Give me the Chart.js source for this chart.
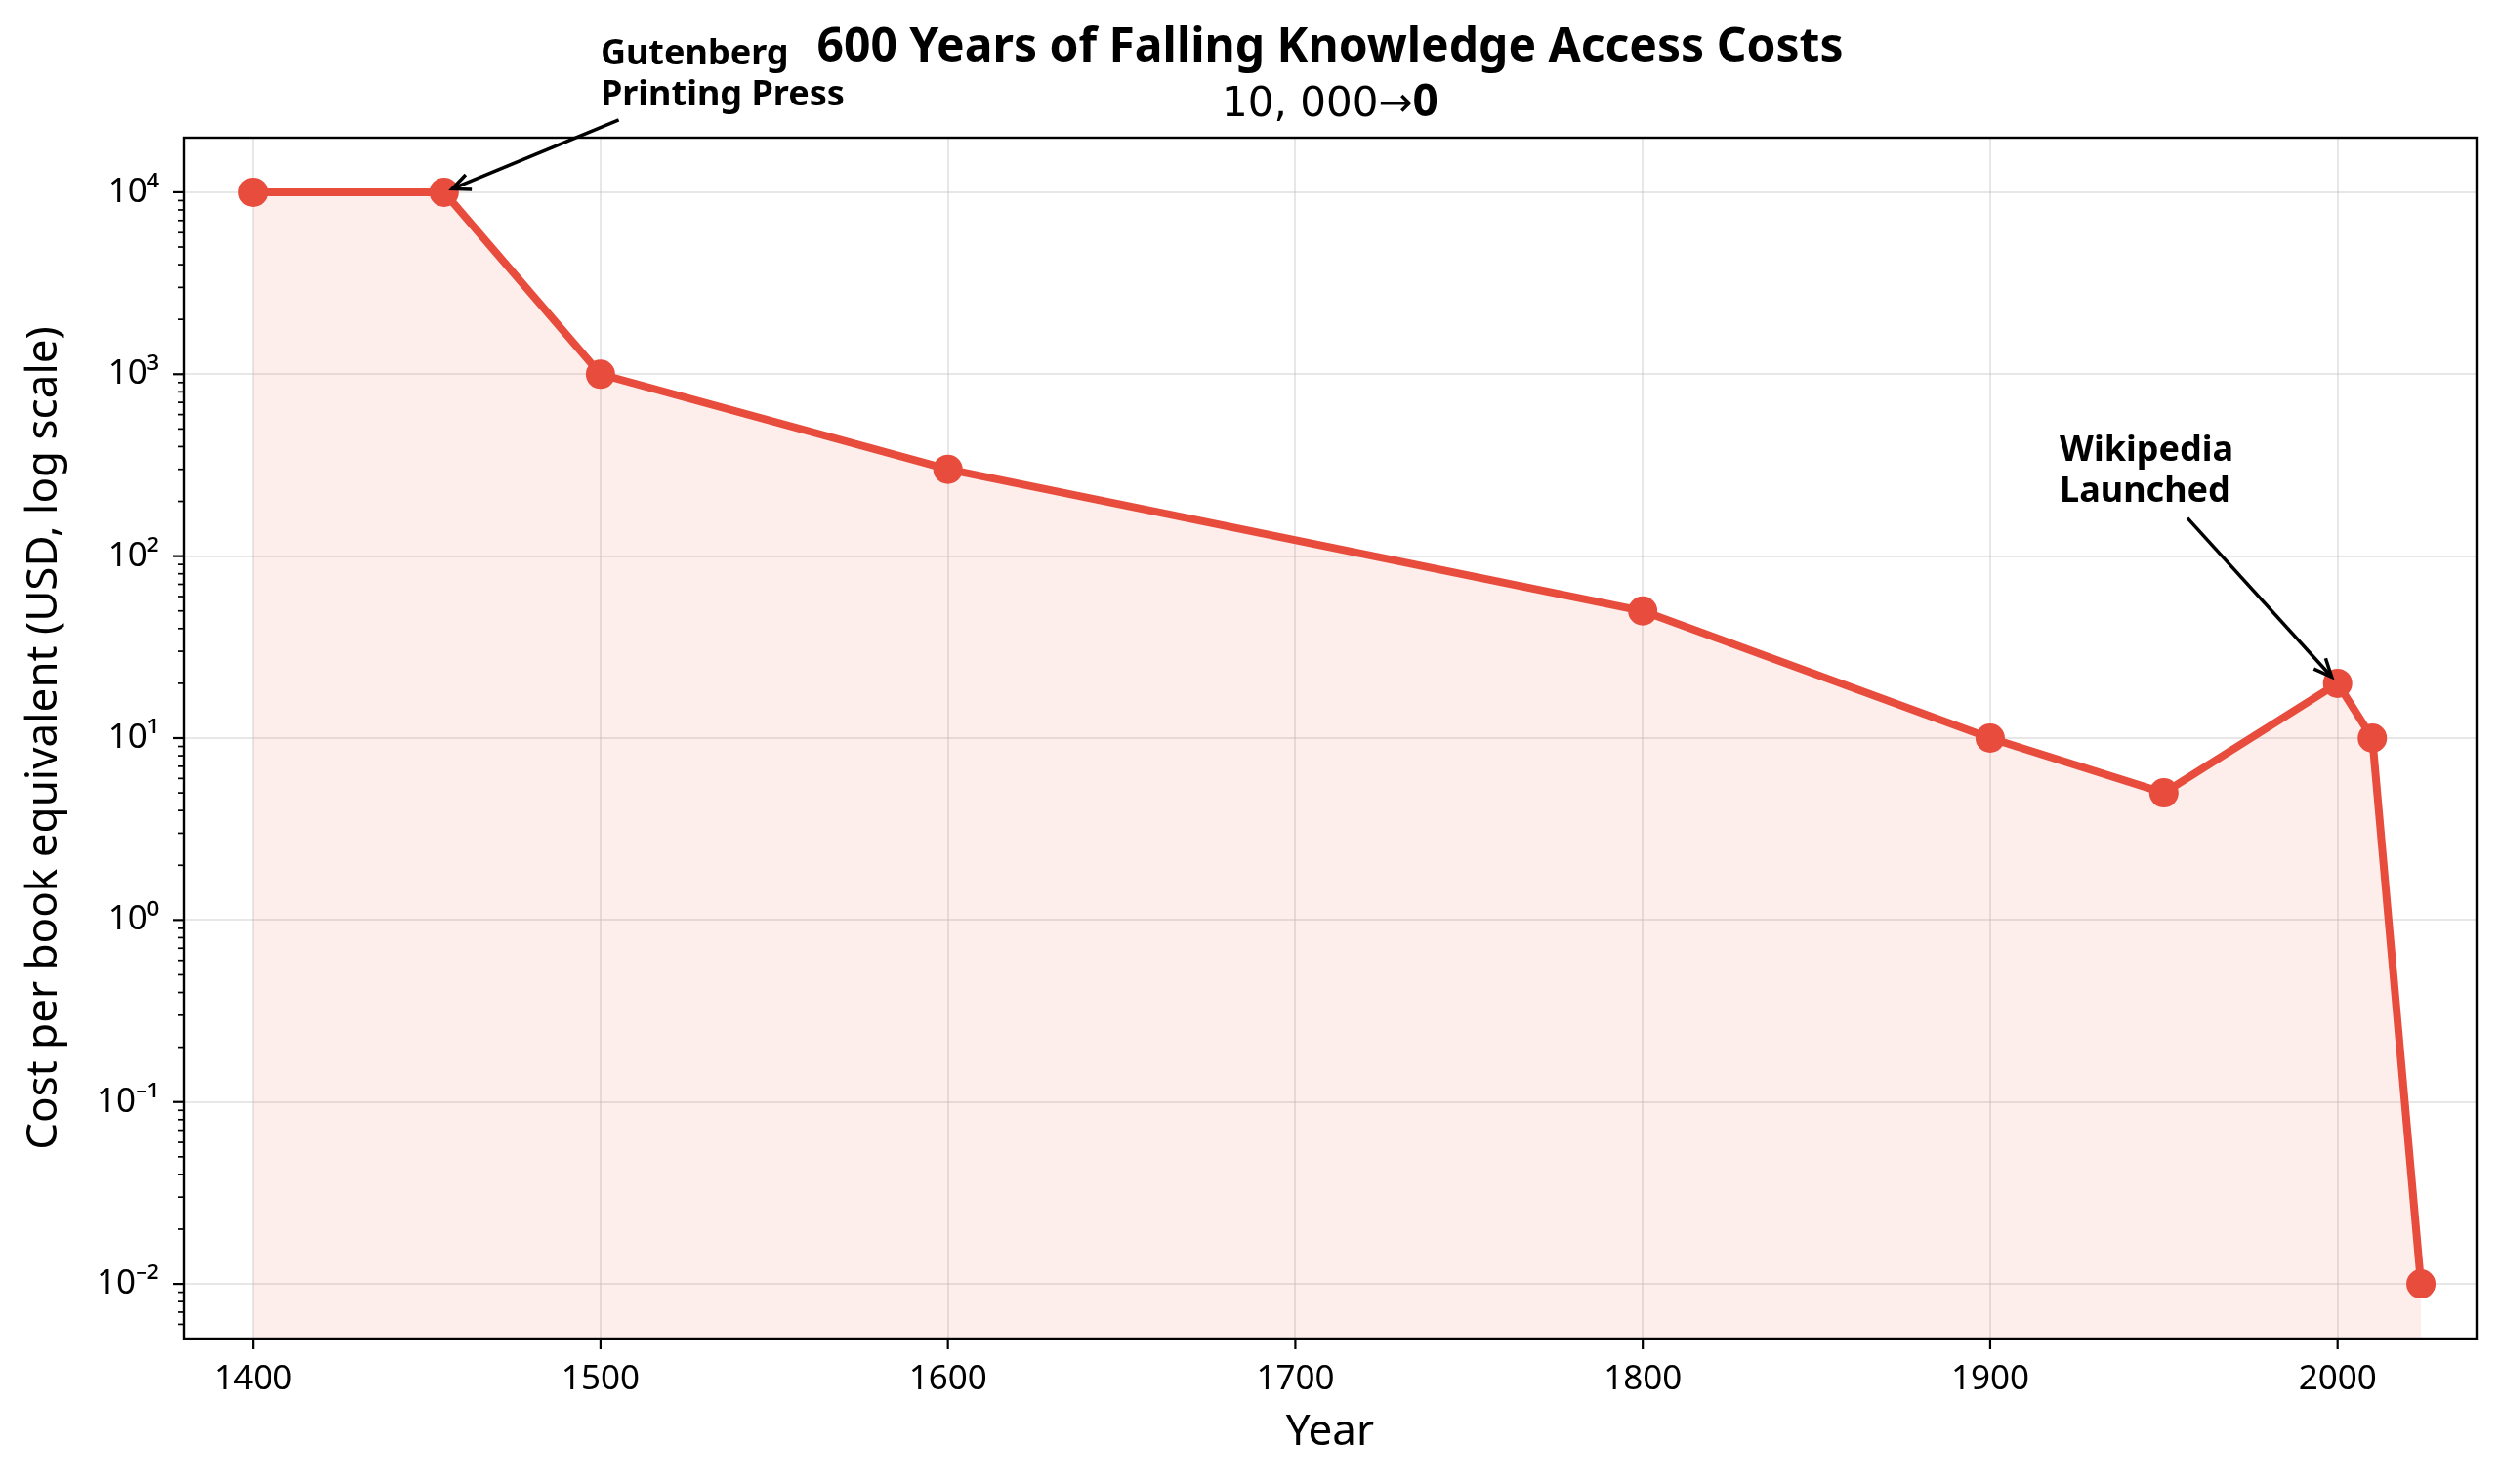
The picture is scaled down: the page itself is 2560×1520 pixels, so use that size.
<!DOCTYPE html>
<html>
<head>
<meta charset="utf-8">
<script src="https://cdn.jsdelivr.net/npm/chart.js@4.4.1/dist/chart.umd.min.js"></script>
<style>
  html, body { margin: 0; padding: 0; background: #ffffff; }
  #wrap { width: 2560px; height: 1520px; }
</style>
</head>
<body>
<div id="wrap"><canvas id="chart" width="2560" height="1520"></canvas></div>
<script>
// data
const years = [1400, 1455, 1500, 1600, 1800, 1900, 1950, 2000, 2010, 2024];
const costs = [10000, 10000, 1000, 300, 50, 10, 5, 20, 10, 0.01];

const xTicks = [1400, 1500, 1600, 1700, 1800, 1900, 2000];
const yTickExps = [-2, -1, 0, 1, 2, 3, 4];
const yTickLabels = ["10⁻²", "10⁻¹", "10⁰", "10¹", "10²", "10³", "10⁴"];

const annoLines = [["Gutenberg", "Printing Press"], ["Wikipedia", "Launched"]];
const annoTextAt = [[1500, 30000], [1920, 200]];
const annoTarget = [[1455, 10000], [2000, 20]];

const titleText = "600 Years of Falling Knowledge Access Costs";
const subtitleParts = ["10, 000→", "0"];

const RED = "#E74C3C";
const GRID = "rgba(176,176,176,0.3)";
const FONT = "'Noto Sans', sans-serif";
const MATH_FONT = "'DejaVu Sans', sans-serif";

function isDecade(v) {
    const e = Math.round(Math.log10(v));
    return Math.abs(v / Math.pow(10, e) - 1) < 1e-9;
}

function drawArrow(ctx, x0, y0, x1, y1) {
    const ang = Math.atan2(y1 - y0, x1 - x0);
    const hl = 20, hw = 0.42;
    ctx.beginPath();
    ctx.moveTo(x0, y0);
    ctx.lineTo(x1, y1);
    ctx.stroke();
    ctx.beginPath();
    ctx.moveTo(x1 - hl * Math.cos(ang - hw), y1 - hl * Math.sin(ang - hw));
    ctx.lineTo(x1, y1);
    ctx.lineTo(x1 - hl * Math.cos(ang + hw), y1 - hl * Math.sin(ang + hw));
    ctx.stroke();
}

const decorations = {
    id: "decorations",
    afterDraw(chart) {
        const { ctx, chartArea: a, scales: { x, y } } = chart;
        ctx.save();

        // tick marks
        ctx.strokeStyle = "#000";
        xTicks.forEach(v => {
            const px = x.getPixelForValue(v);
            ctx.lineWidth = 2.2;
            ctx.beginPath();
            ctx.moveTo(px, a.bottom);
            ctx.lineTo(px, a.bottom + 11);
            ctx.stroke();
        });
        y.ticks.forEach(t => {
            const py = y.getPixelForValue(t.value);
            const major = isDecade(t.value);
            ctx.lineWidth = major ? 2.2 : 1.7;
            ctx.beginPath();
            ctx.moveTo(a.left - (major ? 11 : 6), py);
            ctx.lineTo(a.left, py);
            ctx.stroke();
        });

        // frame
        ctx.lineWidth = 2.4;
        ctx.strokeRect(a.left, a.top, a.right - a.left, a.bottom - a.top);

        // title
        const cx = (a.left + a.right) / 2;
        ctx.fillStyle = "#000";
        ctx.textBaseline = "alphabetic";
        ctx.textAlign = "center";
        ctx.font = "bold 48px " + FONT;
        ctx.fillText(titleText, cx, 63);

        ctx.font = "42px " + MATH_FONT;
        const w0 = ctx.measureText(subtitleParts[0]).width;
        ctx.font = "bold 46px " + FONT;
        const w1 = ctx.measureText(subtitleParts[1]).width;
        ctx.textAlign = "left";
        const sx = cx - (w0 + w1) / 2;
        ctx.font = "42px " + MATH_FONT;
        ctx.fillText(subtitleParts[0], sx, 119);
        ctx.font = "bold 46px " + FONT;
        ctx.fillText(subtitleParts[1], sx + w0, 119);

        // annotations
        const fs = 36, lh = 42;
        ctx.font = "bold " + fs + "px " + FONT;
        annoLines.forEach((lines, i) => {
            const tx = x.getPixelForValue(annoTextAt[i][0]);
            const lastBase = y.getPixelForValue(annoTextAt[i][1]);
            const firstBase = lastBase - lh * (lines.length - 1);
            let wmax = 0;
            lines.forEach((s, k) => {
                ctx.fillText(s, tx, firstBase + k * lh);
                wmax = Math.max(wmax, ctx.measureText(s).width);
            });
            const box = { l: tx, r: tx + wmax, t: firstBase - fs * 0.8, b: lastBase + fs * 0.35 };
            const c = { x: (box.l + box.r) / 2, y: (box.t + box.b) / 2 };
            const px = x.getPixelForValue(annoTarget[i][0]);
            const py = y.getPixelForValue(annoTarget[i][1]);
            const dx = px - c.x, dy = py - c.y;
            const len = Math.hypot(dx, dy);
            const tX = dx > 0 ? (box.r - c.x) / dx : (box.l - c.x) / dx;
            const tY = dy > 0 ? (box.b - c.y) / dy : (box.t - c.y) / dy;
            const t = Math.min(tX, tY);
            const ux = dx / len, uy = dy / len;
            const x0 = c.x + t * dx + ux * 6, y0 = c.y + t * dy + uy * 6;
            const x1 = px - ux * 9, y1 = py - uy * 9;
            ctx.lineWidth = 3.5;
            ctx.strokeStyle = "#000";
            drawArrow(ctx, x0, y0, x1, y1);
        });

        ctx.restore();
    }
};

new Chart(document.getElementById("chart"), {
    type: "line",
    data: {
        datasets: [{
            data: years.map((yr, i) => ({ x: yr, y: costs[i] })),
            borderColor: RED,
            borderWidth: 8,
            backgroundColor: "rgba(231,76,60,0.1)",
            fill: "start",
            tension: 0,
            pointRadius: 15,
            pointHoverRadius: 15,
            pointBackgroundColor: RED,
            pointBorderWidth: 0
        }]
    },
    options: {
        responsive: false,
        animation: false,
        devicePixelRatio: 1,
        events: [],
        layout: { padding: { left: 0, right: 24, top: 141, bottom: 0 } },
        plugins: {
            legend: { display: false },
            tooltip: { enabled: false },
            title: { display: false }
        },
        scales: {
            x: {
                type: "linear",
                min: 1380,
                max: 2040,
                afterBuildTicks: s => { s.ticks = xTicks.map(v => ({ value: v })); },
                afterFit: s => { s.height = 149; },
                grid: { color: GRID, lineWidth: 2, drawTicks: false },
                border: { display: false },
                ticks: {
                    color: "#000",
                    font: { family: FONT, size: 35 },
                    padding: 21,
                    maxRotation: 0,
                    autoSkip: false,
                    callback: v => String(v)
                },
                title: {
                    display: true,
                    text: "Year",
                    color: "#000",
                    font: { family: FONT, size: 44 },
                    padding: { top: 0, bottom: 26 }
                }
            },
            y: {
                type: "logarithmic",
                min: Math.pow(10, -2.3),
                max: Math.pow(10, 4.3),
                afterBuildTicks: s => {
                    const ticks = [];
                    for (let e = -3; e <= 4; e++) {
                        for (let m = 1; m <= 9; m++) {
                            const v = m * Math.pow(10, e);
                            if (v >= s.min && v <= s.max) ticks.push({ value: v, major: m === 1 });
                        }
                    }
                    s.ticks = ticks;
                },
                afterFit: s => { s.width = 188; },
                grid: {
                    color: c => (c.tick && isDecade(c.tick.value)) ? GRID : "rgba(0,0,0,0)",
                    lineWidth: 2,
                    drawTicks: false
                },
                border: { display: false },
                ticks: {
                    color: "#000",
                    font: { family: FONT, size: 35 },
                    padding: 25,
                    autoSkip: false,
                    callback: v => {
                        if (!isDecade(v)) return "";
                        const k = yTickExps.indexOf(Math.round(Math.log10(v)));
                        return k >= 0 ? yTickLabels[k] : "";
                    }
                },
                title: {
                    display: true,
                    text: "Cost per book equivalent (USD, log scale)",
                    color: "#000",
                    font: { family: FONT, size: 44 },
                    padding: { top: 19, bottom: 0 }
                }
            }
        }
    },
    plugins: [decorations]
});
</script>
</body>
</html>
